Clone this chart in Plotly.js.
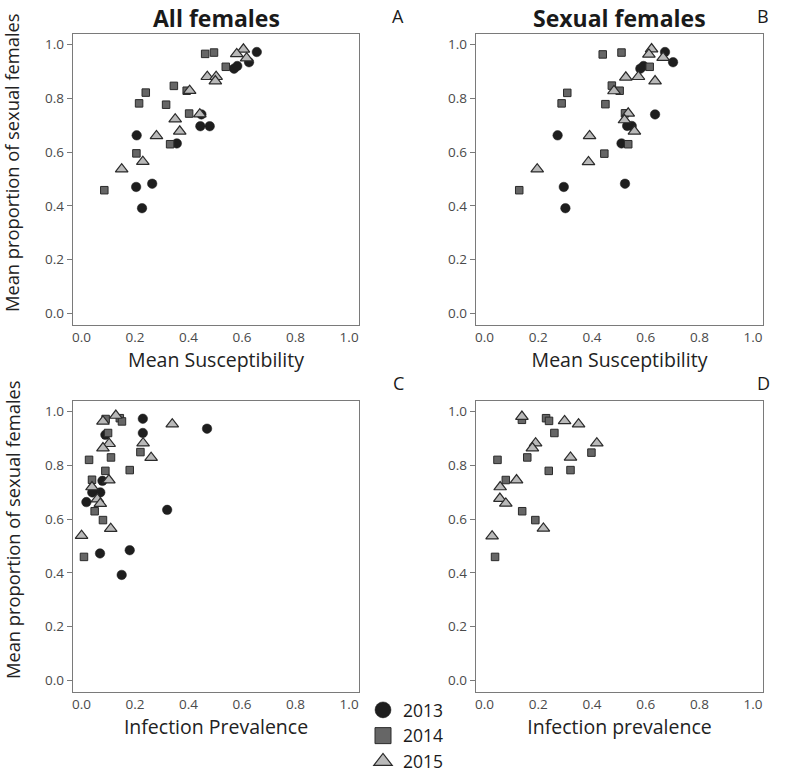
<!DOCTYPE html>
<html>
<head>
<meta charset="utf-8">
<script src="https://cdn.plot.ly/plotly-3.0.1.min.js"></script>
<style>
html,body{margin:0;padding:0;background:#fff;width:800px;height:773px;overflow:hidden;}
#chart{display:block;position:absolute;left:0;top:0;width:800px;height:820px;}
</style>
</head>
<body>
<div id="chart"></div>
<script>
// ---- Data ----
const years = ["2013", "2014", "2015"];
const panelTitles = ["All females", "Sexual females"];
const panelLetters = ["A", "B", "C", "D"];
const xTitles = ["Mean Susceptibility", "Mean Susceptibility", "Infection Prevalence", "Infection prevalence"];
const yTitle = "Mean proportion of sexual females";
const tickVals = [0, 0.2, 0.4, 0.6, 0.8, 1.0];

// Panel A: all females vs mean susceptibility
const A13x = [0.655,0.626,0.570,0.582,0.448,0.444,0.479,0.206,0.356,0.204,0.264,0.226];
const A13y = [0.972,0.934,0.910,0.920,0.740,0.696,0.696,0.662,0.632,0.470,0.482,0.391];
const A14x = [0.462,0.495,0.539,0.345,0.240,0.393,0.215,0.316,0.402,0.331,0.205,0.085];
const A14y = [0.965,0.970,0.917,0.846,0.821,0.828,0.781,0.776,0.743,0.629,0.595,0.458];
const A15x = [0.605,0.580,0.617,0.470,0.503,0.500,0.404,0.442,0.350,0.367,0.280,0.229,0.150];
const A15y = [0.982,0.965,0.949,0.880,0.880,0.864,0.828,0.741,0.722,0.677,0.660,0.564,0.536];

// Panel B: sexual females vs mean susceptibility
const B13x = [0.672,0.702,0.580,0.592,0.635,0.531,0.548,0.272,0.510,0.295,0.523,0.301];
const B13y = [0.972,0.934,0.910,0.920,0.740,0.697,0.697,0.662,0.632,0.470,0.482,0.391];
const B14x = [0.440,0.510,0.615,0.474,0.503,0.308,0.287,0.450,0.523,0.535,0.446,0.129];
const B14y = [0.963,0.970,0.917,0.847,0.828,0.820,0.781,0.778,0.744,0.629,0.594,0.458];
const B15x = [0.622,0.612,0.665,0.526,0.573,0.635,0.482,0.535,0.521,0.558,0.391,0.387,0.196];
const B15y = [0.983,0.963,0.951,0.878,0.880,0.864,0.827,0.744,0.719,0.677,0.660,0.563,0.536];

// Panel C: all females vs infection prevalence
const C13x = [0.229,0.469,0.229,0.089,0.078,0.070,0.040,0.018,0.320,0.069,0.180,0.150];
const C13y = [0.973,0.936,0.920,0.913,0.742,0.699,0.699,0.663,0.634,0.472,0.484,0.392];
const C14x = [0.090,0.143,0.151,0.099,0.220,0.028,0.110,0.180,0.089,0.039,0.049,0.080,0.009];
const C14y = [0.972,0.975,0.963,0.920,0.849,0.820,0.829,0.782,0.779,0.746,0.629,0.596,0.459];
const C15x = [0.128,0.080,0.339,0.103,0.080,0.230,0.260,0.102,0.039,0.059,0.070,0.109,0.000];
const C15y = [0.985,0.963,0.953,0.880,0.864,0.882,0.828,0.745,0.719,0.674,0.657,0.564,0.538];

// Panel D: sexual females vs infection prevalence (no 2013)
const D14x = [0.229,0.240,0.139,0.260,0.398,0.048,0.159,0.239,0.320,0.079,0.140,0.189,0.039];
const D14y = [0.975,0.965,0.969,0.920,0.847,0.820,0.829,0.779,0.782,0.745,0.629,0.596,0.459];
const D15x = [0.139,0.298,0.350,0.190,0.178,0.418,0.320,0.119,0.058,0.057,0.079,0.219,0.028];
const D15y = [0.981,0.965,0.953,0.882,0.864,0.882,0.829,0.745,0.719,0.676,0.658,0.565,0.536];

// ---- Styles ----
const FONT = "Open Sans, Noto Sans, sans-serif";
const W = 800;      // page width
const HL = 820;     // plot canvas height (taller than the 773px view so the legend needs no margin push)
const fx = function (px) { return px / W; };
const fy = function (py) { return 1 - py / HL; };

const styles = {
  "2013": {symbol: "circle", size: 9.5, color: "#1e1e1e", line: {color: "#1e1e1e", width: 0.5}},
  "2014": {symbol: "square", size: 7.5, color: "#666666", line: {color: "#2a2a2a", width: 1}},
  "2015": {symbol: "triangle-up", size: 11, color: "#b9b9b9", line: {color: "#2a2a2a", width: 1.2}}
};

function pts(x, y, year, xa, ya) {
  const s = styles[year];
  return {type: "scatter", mode: "markers", x: x, y: y, xaxis: xa, yaxis: ya,
    name: year, showlegend: false, hoverinfo: "x+y",
    marker: {symbol: s.symbol, size: s.size, color: s.color, line: s.line}};
}

const data = [
  pts(A13x, A13y, "2013", "x", "y"), pts(A14x, A14y, "2014", "x", "y"), pts(A15x, A15y, "2015", "x", "y"),
  pts(B13x, B13y, "2013", "x2", "y2"), pts(B14x, B14y, "2014", "x2", "y2"), pts(B15x, B15y, "2015", "x2", "y2"),
  pts(C13x, C13y, "2013", "x3", "y3"), pts(C14x, C14y, "2014", "x3", "y3"), pts(C15x, C15y, "2015", "x3", "y3"),
  pts(D14x, D14y, "2014", "x4", "y4"), pts(D15x, D15y, "2015", "x4", "y4")
];
// legend entries
years.forEach(function (yr) {
  const s = styles[yr];
  data.push({type: "scatter", mode: "markers", x: [null], y: [null], xaxis: "x3", yaxis: "y3",
    name: yr, showlegend: true,
    marker: {symbol: s.symbol, size: 16, color: s.color, line: s.line}});
});

// pixel frames: [left, right, top, bottom]
const frames = [[73, 359, 34, 325], [476, 763, 34, 325], [73, 359, 401, 692], [476, 763, 401, 692]];
const xr = [-0.032, 1.037], yr = [-0.0435, 1.039];

function xax(i) {
  const f = frames[i];
  return {domain: [fx(f[0]), fx(f[1])], range: xr, tickvals: tickVals, tickformat: ".1f",
    showgrid: false, zeroline: false, showline: true, mirror: true, linecolor: "#7a7a7a", linewidth: 1.2,
    ticks: "", tickfont: {family: FONT, size: 13.5, color: "#4a4a4a"},
    anchor: i === 0 ? "y" : "y" + (i + 1),
    title: {text: xTitles[i], font: {family: FONT, size: 19.5, color: "#222"}, standoff: 2}};
}
function yax(i) {
  const f = frames[i];
  return {domain: [fy(f[3]), fy(f[2])], range: yr, tickvals: tickVals, tickformat: ".1f",
    showgrid: false, zeroline: false, showline: true, mirror: true, linecolor: "#7a7a7a", linewidth: 1.2,
    ticks: "outside", ticklen: 5, tickcolor: "#7a7a7a", tickfont: {family: FONT, size: 13.5, color: "#4a4a4a"},
    anchor: i === 0 ? "x" : "x" + (i + 1)};
}

const annotations = [
  {text: "<b>" + panelTitles[0] + "</b>", x: fx(216), y: fy(18)},
  {text: "<b>" + panelTitles[1] + "</b>", x: fx(619), y: fy(18)},
].map(function (a) {
  return Object.assign({xref: "paper", yref: "paper", showarrow: false, xanchor: "center", yanchor: "middle",
    font: {family: FONT, size: 23, color: "#1a1a1a"}}, a);
});
const letterPos = [[398, 16], [763, 16], [398, 383], [763, 383]];
panelLetters.forEach(function (L, i) {
  annotations.push({text: L, x: fx(letterPos[i][0]), y: fy(letterPos[i][1]), xref: "paper", yref: "paper",
    showarrow: false, xanchor: "center", yanchor: "middle", font: {family: FONT, size: 18, color: "#1a1a1a"}});
});
// y-axis titles (rotated text beside panels A and C)
[[12, 163], [12, 530]].forEach(function (p) {
  annotations.push({text: yTitle, x: fx(p[0]), y: fy(p[1]), xref: "paper", yref: "paper",
    showarrow: false, textangle: -90, xanchor: "center", yanchor: "middle",
    font: {family: FONT, size: 18.3, color: "#222"}});
});

const layout = {
  width: W, height: HL, margin: {l: 0, r: 0, t: 0, b: 0},
  paper_bgcolor: "#fff", plot_bgcolor: "#fff",
  showlegend: true,
  legend: {x: fx(363), y: fy(692), xanchor: "left", yanchor: "top",
    font: {family: FONT, size: 17.5, color: "#1a1a1a"}, bgcolor: "rgba(0,0,0,0)", tracegroupgap: 0},
  xaxis: xax(0), yaxis: yax(0), xaxis2: xax(1), yaxis2: yax(1),
  xaxis3: xax(2), yaxis3: yax(2), xaxis4: xax(3), yaxis4: yax(3),
  annotations: annotations
};

Plotly.newPlot("chart", data, layout, {displayModeBar: false, staticPlot: true});
</script>
</body>
</html>
